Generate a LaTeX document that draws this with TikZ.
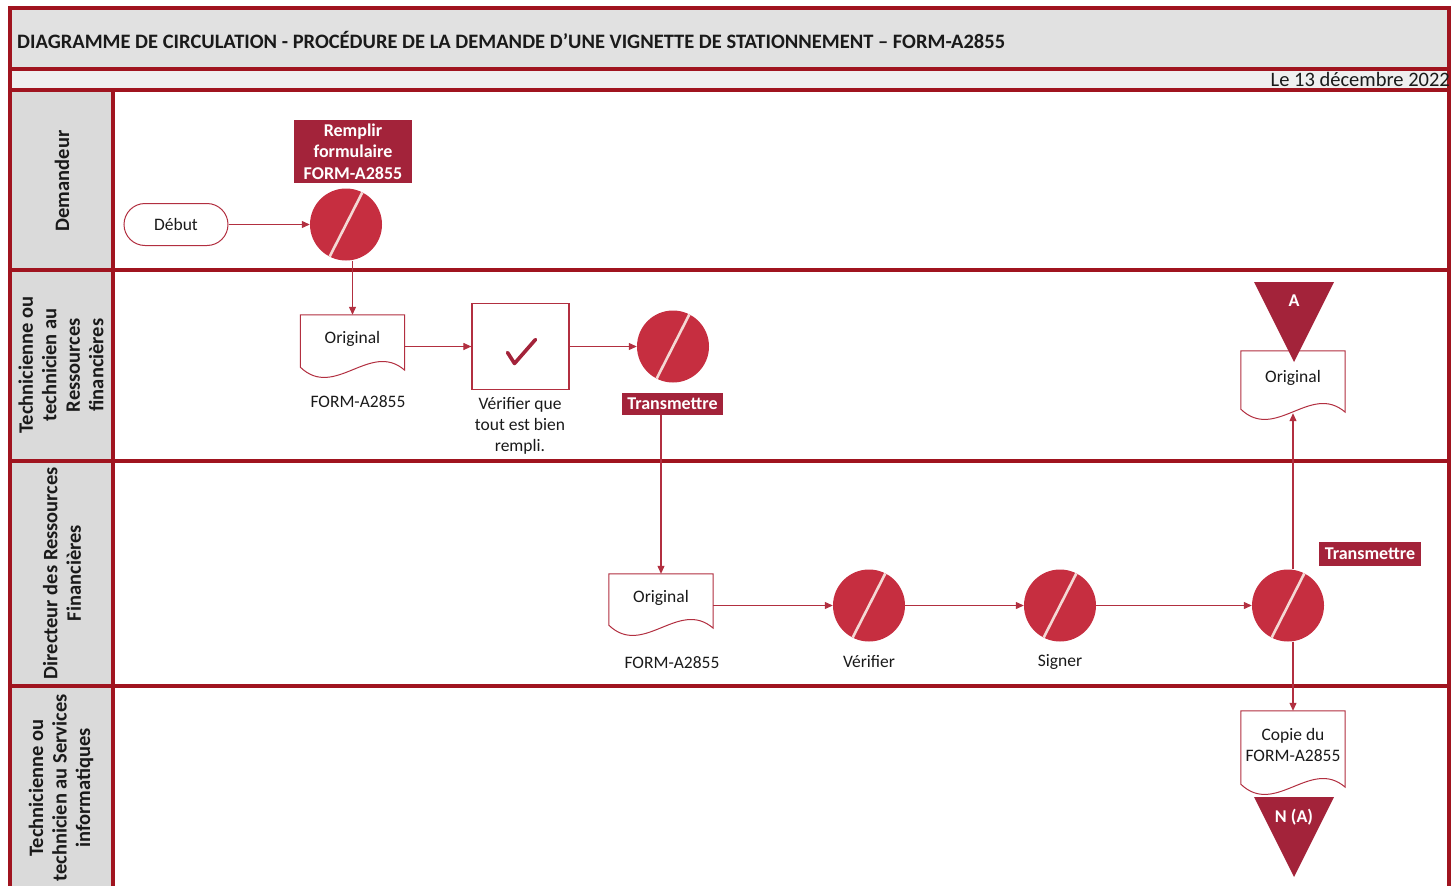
\documentclass[tikz,border=0pt]{standalone}
\usepackage{fontspec}
\setmainfont{Carlito}
\usetikzlibrary{arrows.meta,calc}
\definecolor{frm}{HTML}{A0141F}
\definecolor{crim}{HTML}{C62E40}
\definecolor{lbl}{HTML}{A3233A}
\definecolor{conn}{HTML}{B22F40}
\definecolor{hdr}{HTML}{E1E1E1}
\definecolor{hdrb}{HTML}{EFEFEF}
\definecolor{lanehd}{HTML}{DADADA}
\definecolor{slash}{HTML}{F4D8D4}
\definecolor{ink}{HTML}{1A1A1A}
\newcommand\docoutline[1]{%
  \draw[draw=conn, line width=1pt, fill=white]
    (#1.north west) -- (#1.north east) -- ($(#1.south east)+(0,-8)$)
    .. controls ($(#1.south east)!0.33!(#1.south west)+(0,-38)$) and ($(#1.south east)!0.67!(#1.south west)+(0,22)$)
    .. ($(#1.south west)+(0,-11)$) -- cycle;}
\begin{document}
\begin{tikzpicture}[x=1pt,y=-1pt,
  every node/.style={font=\fontsize{17.5}{21}\selectfont, text=ink, inner sep=0pt},
  txt/.style={align=center},
  lanelbl/.style={rotate=90, align=center, font=\bfseries\fontsize{20.5}{23.5}\selectfont},
  proc/.style={circle, fill=crim, minimum size=72pt,
    path picture={\draw[draw=slash, line width=2.6pt]
      ([shift={(243:36pt)}]path picture bounding box.center) --
      ([shift={(63:36pt)}]path picture bounding box.center);}},
  tag/.style={fill=lbl, text=white, align=center, font=\bfseries\fontsize{18}{21.5}\selectfont},
  trilbl/.style={text=white, font=\bfseries\fontsize{18}{21}\selectfont},
  docbox/.style={minimum width=104pt},
  startnode/.style={draw=conn, line width=1pt, fill=white, rounded corners=21pt, minimum width=104pt, minimum height=42pt},
  chkbox/.style={draw=conn, line width=1.2pt, fill=white, minimum width=97pt, minimum height=86pt},
  frameline/.style={draw=frm, line width=3.5pt},
  laneline/.style={draw=frm, line width=3.2pt},
  flow/.style={draw=conn, line width=1.1pt, -{Triangle[length=8pt,width=7pt]}},
  tri/.style={fill=lbl}
]
\useasboundingbox (0,0) rectangle (1451,886);
% backgrounds
\fill[hdr] (10,8) rectangle (1449,68);
\fill[hdrb] (10,70) rectangle (1449,90);
\fill[lanehd] (10,90) rectangle (113,886);
% frame
\draw[frameline] (10,886) -- (10,8) -- (1449,8) -- (1449,886);
\draw[frameline] (10,69) -- (1449,69);
\draw[frameline] (10,90) -- (1449,90);
\draw[frameline] (113,90) -- (113,886);
\foreach \yy in {270,461,686} \draw[laneline] (10,\yy) -- (1449,\yy);
% header texts
\node[anchor=west, font=\bfseries\fontsize{20.5}{23}\selectfont] (title) at (17,40)
  {DIAGRAMME DE CIRCULATION - PROCÉDURE DE LA DEMANDE D’UNE VIGNETTE DE STATIONNEMENT – FORM-A2855};
\node[anchor=east, font=\fontsize{20.5}{23}\selectfont] (date) at (1450,79) {Le 13 décembre 2022};
% lane labels
\node[lanelbl] (L1) at (62,181) {Demandeur};
\node[lanelbl] (L2) at (61,365) {Technicienne ou\\technicien au\\Ressources\\financières};
\node[lanelbl] (L3) at (62,573) {Directeur des Ressources\\Financières};
\node[lanelbl] (L4) at (61,788) {Technicienne ou\\technicien au Services\\informatiques};
% nodes
\node[startnode] (start) at (176,224.5) {Début};
\node[proc] (c1) at (346,224.5) {};
\node[tag, minimum width=118pt, minimum height=63pt] (t0) at (353,151.5) {Remplir\\formulaire\\FORM-A2855};
\node[docbox, minimum height=63pt] (doc1) at (352.5,346.5) {};
\docoutline{doc1}
\node (doc1t) at (352.5,339) {Original};
\node (doc1l) at (358,402) {FORM-A2855};
\node[chkbox] (chk) at (520.5,346.5) {};
\draw[draw=lbl, line width=3.6pt, line cap=round, line join=round]
  ($(chk.center)+(-13,6)$) -- ($(chk.center)+(-6,17)$) -- ($(chk.center)+(15,-7)$);
\node[txt] (chkl) at (520,426) {Vérifier que\\tout est bien\\rempli.};
\node[proc] (c2) at (673,346.5) {};
\node[tag, minimum width=101pt, minimum height=22pt] (t1) at (672.5,404) {Transmettre};
\node[docbox, minimum height=62pt] (doc2) at (661,605) {};
\docoutline{doc2}
\node (doc2t) at (661,598) {Original};
\node (doc2l) at (672,663) {FORM-A2855};
\node[proc] (c3) at (869,605.5) {};
\node (c3l) at (869,662) {Vérifier};
\node[proc] (c4) at (1060,605.5) {};
\node (c4l) at (1060,662) {Signer};
\node[proc] (c5) at (1288,605.5) {};
\node[tag, minimum width=102pt, minimum height=24pt] (t2) at (1370,554) {Transmettre};
\node[docbox, minimum height=69pt] (doc3) at (1293,385.5) {};
\docoutline{doc3}
\node (doc3t) at (1293,378) {Original};
\node[docbox, minimum height=84pt] (doc4) at (1293,753) {};
\docoutline{doc4}
\node[txt] (doc4t) at (1293,745) {Copie du\\FORM-A2855};
% off-page connectors
\coordinate (triA) at (1294,282);
\fill[tri] ($(triA)+(-40,0)$) -- ($(triA)+(40,0)$) -- ($(triA)+(0,80)$) -- cycle;
\node[trilbl] (triAt) at (1294,301) {A};
\coordinate (triN) at (1294,797);
\fill[tri] ($(triN)+(-40,0)$) -- ($(triN)+(40,0)$) -- ($(triN)+(0,80)$) -- cycle;
\node[trilbl] (triNt) at (1294,817) {N (A)};
% connectors
\draw[flow] (start.east) -- (c1.west);
\draw[flow] (doc1.north |- c1.south) -- (doc1.north);
\draw[flow] (doc1.east |- chk.west) -- (chk.west);
\draw[flow] (chk.east) -- (c2.west);
\draw[flow] (doc2.north |- t1.south) -- (doc2.north);
\draw[flow] (doc2.east |- c3.west) -- (c3.west);
\draw[flow] (c3.east) -- (c4.west);
\draw[flow] (c4.east) -- (c5.west);
\draw[flow] (doc3.south |- c5.north) -- ($(doc3.south)+(0,-7)$);
\draw[flow] (doc4.north |- c5.south) -- (doc4.north);
\end{tikzpicture}
\end{document}
